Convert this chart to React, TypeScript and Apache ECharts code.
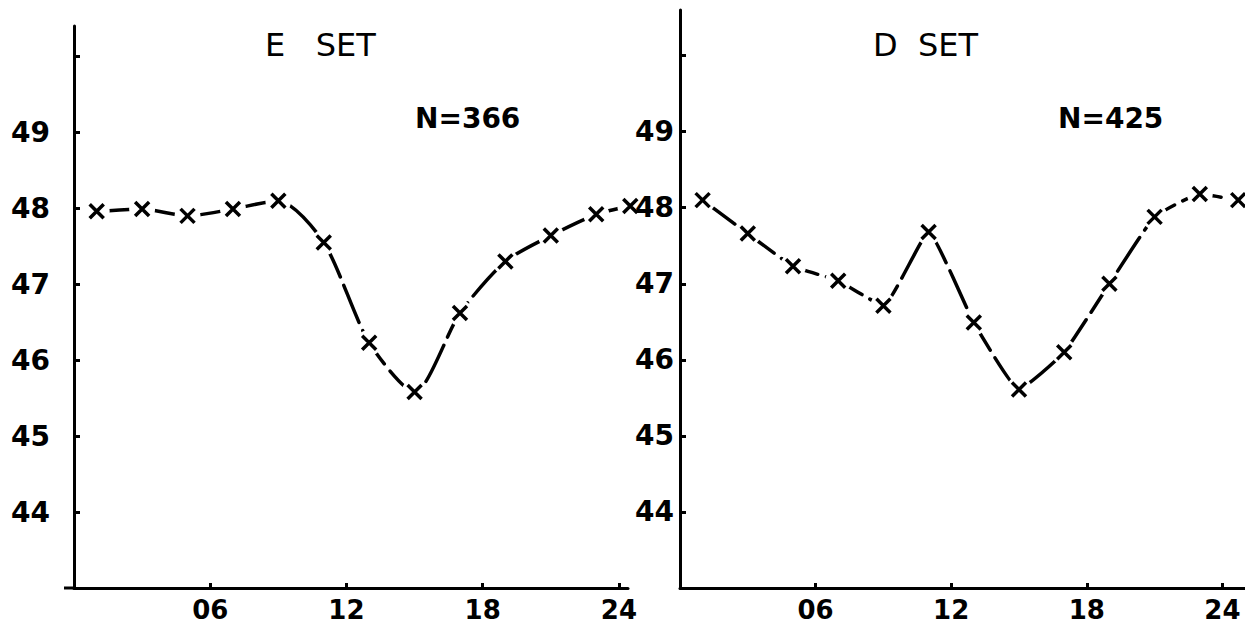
import React, { useEffect, useRef } from 'react';
import * as echarts from 'echarts';

const hoursE = [1, 3, 5, 7, 9, 11, 13, 15, 17, 19, 21, 23, 24.5];
const valuesE = [47.96, 47.99, 47.9, 47.99, 48.1, 47.55, 46.23, 45.58, 46.62, 47.3, 47.64, 47.92, 48.03];
const hoursD = [1, 3, 5, 7, 9, 11, 13, 15, 17, 19, 21, 23, 24.7];
const valuesD = [48.1, 47.66, 47.23, 47.04, 46.71, 47.68, 46.49, 45.61, 46.1, 47.0, 47.88, 48.18, 48.1];

const yTickValues = [44, 45, 46, 47, 48, 49, 50];
const yLabelValues = [44, 45, 46, 47, 48, 49];
const xTickValues = [6, 12, 18, 24];
const xTickLabels = ['06', '12', '18', '24'];

const titles = ['E   SET', 'D  SET'];
const counts = ['N=366', 'N=425'];

const FONT = 'DejaVu Sans';
const CROSS = 'path://M0,0L10,10M10,0L0,10';

export default function App() {
  const ref = useRef<HTMLDivElement>(null);
  useEffect(() => {
    const chart = echarts.init(ref.current!, null, { renderer: 'svg' });

    const mkX = (gridIndex: number, max: number) => ({
      type: 'value',
      gridIndex,
      min: 0,
      max,
      axisLine: { show: true, onZero: false, lineStyle: { color: '#000', width: 3 } },
      axisTick: { show: true, inside: true, length: 5, customValues: xTickValues, lineStyle: { color: '#000', width: 3 } },
      axisLabel: {
        customValues: xTickValues,
        formatter: (v: number) => xTickLabels[xTickValues.indexOf(v)],
        color: '#000',
        fontSize: 26,
        fontWeight: 'bold',
        fontFamily: FONT,
        margin: 9,
      },
      splitLine: { show: false },
    });
    const mkY = (gridIndex: number, max: number, margin: number) => ({
      type: 'value',
      gridIndex,
      min: 43,
      max,
      z: 6,
      axisLine: { show: true, onZero: false, lineStyle: { color: '#000', width: 3 } },
      axisTick: { show: true, inside: true, length: 6, customValues: yTickValues, lineStyle: { color: '#000', width: 3 } },
      axisLabel: {
        customValues: yLabelValues,
        color: '#000',
        fontSize: 28,
        fontWeight: 'bold',
        fontFamily: FONT,
        margin,
      },
      splitLine: { show: false },
    });

    const sets = [
      { hours: hoursE, values: valuesE, smooth: 0.25 },
      { hours: hoursD, values: valuesD, smooth: 0.12 },
    ];
    const series: any[] = [];
    sets.forEach((s, i) => {
      const data = s.hours.map((h, k) => [h, s.values[k]]);
      series.push({
        type: 'line',
        xAxisIndex: i,
        yAxisIndex: i,
        data,
        smooth: s.smooth,
        showSymbol: false,
        clip: false,
        z: 2,
        lineStyle: { color: '#000', width: 3.5, type: [40, 9], cap: 'round' },
      });
      series.push({
        type: 'scatter',
        xAxisIndex: i,
        yAxisIndex: i,
        data,
        symbol: 'circle',
        symbolSize: 26,
        clip: false,
        z: 3,
        itemStyle: { color: '#fff', opacity: 1 },
      });
      series.push({
        type: 'scatter',
        xAxisIndex: i,
        yAxisIndex: i,
        data,
        symbol: CROSS,
        symbolSize: 14,
        clip: false,
        z: 4,
        itemStyle: { color: 'none', borderColor: '#000', borderWidth: 3.5, opacity: 1 },
      });
    });

    chart.setOption({
      animation: false,
      backgroundColor: '#fff',
      grid: [
        { left: 74, top: 26, width: 554, height: 562 },
        { left: 680, top: 10, width: 565, height: 578 },
      ],
      xAxis: [mkX(0, 24.4), mkX(1, 25)],
      yAxis: [mkY(0, 50.4, 24), mkY(1, 50.6, 6)],
      series,
      graphic: [
        { type: 'line', shape: { x1: 64, y1: 588, x2: 76, y2: 588 }, style: { stroke: '#000', lineWidth: 3 } },
        { type: 'text', left: 265, top: 29, style: { text: titles[0], font: `32px "${FONT}"`, fill: '#000' } },
        { type: 'text', left: 873, top: 29, style: { text: titles[1], font: `32px "${FONT}"`, fill: '#000' } },
        { type: 'text', left: 415, top: 104, style: { text: counts[0], font: `bold 28px "${FONT}"`, fill: '#000' } },
        { type: 'text', left: 1058, top: 104, style: { text: counts[1], font: `bold 28px "${FONT}"`, fill: '#000' } },
      ],
    });
    return () => chart.dispose();
  }, []);
  return <div ref={ref} style={{ position: 'fixed', left: 0, top: 0, width: 1245, height: 626 }} />;
}
